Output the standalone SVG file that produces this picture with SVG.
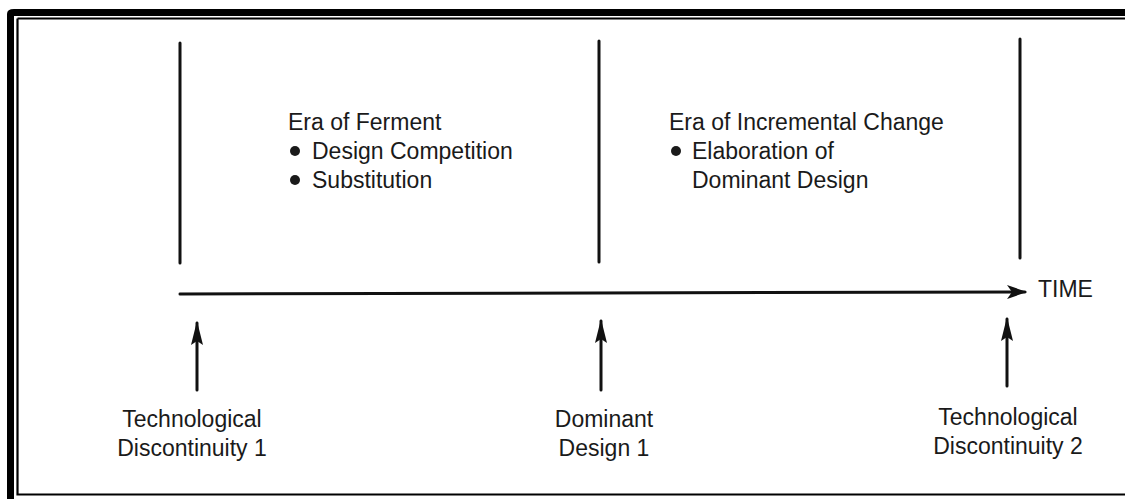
<svg xmlns="http://www.w3.org/2000/svg" width="1125" height="499" viewBox="0 0 1125 499">
  <style>
    .txt { font-family: "Liberation Sans", Arial, sans-serif; font-size: 23px; fill: #1a1a1a; }
    .mid { text-anchor: middle; }
    .rule { stroke: #111; stroke-width: 3; fill: none; stroke-linecap: round; }
    .frame { stroke: #000; fill: none; }
    .dot { fill: #1a1a1a; }
  </style>
  <defs>
    <marker id="headRight" viewBox="0 0 20 14" refX="18" refY="7" markerWidth="20" markerHeight="14" markerUnits="userSpaceOnUse" orient="auto">
      <path d="M0,0 L20,7 L0,14 L5,7 Z" fill="#111"/>
    </marker>
    <marker id="headUp" viewBox="0 0 24 14" refX="22" refY="7" markerWidth="24" markerHeight="14" markerUnits="userSpaceOnUse" orient="auto">
      <path d="M0,1 L24,7 L0,13 L4,7 Z" fill="#111"/>
    </marker>
  </defs>

  <rect width="1125" height="499" fill="#fff"/>

  <!-- frame: heavy outer band, thin inner rule -->
  <g id="frame">
    <path d="M10.5,499 V14 Q10.5,12.5 14,12.5 H1125" class="frame" stroke-width="7"/>
    <path d="M17.5,18.5 H1125 M17.5,18.5 V494.5 H1125" class="frame" stroke-width="2.2"/>
  </g>

  <!-- era boundaries -->
  <g id="boundaries">
    <line x1="180" y1="43" x2="180" y2="263" class="rule"/>
    <line x1="599" y1="41" x2="599" y2="262" class="rule"/>
    <line x1="1020" y1="39" x2="1020" y2="258" class="rule"/>
  </g>

  <g id="connectors">
    <!-- time axis -->
    <line x1="180" y1="294" x2="1025" y2="292" class="rule" marker-end="url(#headRight)"/>
    <!-- event pointers -->
    <line x1="197" y1="390" x2="197" y2="323" class="rule" marker-end="url(#headUp)"/>
    <line x1="601" y1="390" x2="601" y2="321" class="rule" marker-end="url(#headUp)"/>
    <line x1="1007" y1="386" x2="1007" y2="319" class="rule" marker-end="url(#headUp)"/>
  </g>

  <g id="time-label">
    <text x="1038" y="297" class="txt">TIME</text>
  </g>

  <g id="era-ferment">
    <text x="288" y="130" class="txt">Era of Ferment</text>
    <circle cx="295" cy="151" r="5" class="dot"/>
    <text x="312" y="159" class="txt">Design Competition</text>
    <circle cx="295" cy="180" r="5" class="dot"/>
    <text x="312" y="188" class="txt">Substitution</text>
  </g>

  <g id="era-incremental">
    <text x="669" y="130" class="txt">Era of Incremental Change</text>
    <circle cx="676" cy="151" r="5" class="dot"/>
    <text x="692" y="159" class="txt">Elaboration of</text>
    <text x="692" y="188" class="txt">Dominant Design</text>
  </g>

  <g id="discontinuity-1">
    <text x="192" y="427" class="txt mid">Technological</text>
    <text x="192" y="456" class="txt mid">Discontinuity 1</text>
  </g>

  <g id="dominant-design-1">
    <text x="604" y="427" class="txt mid">Dominant</text>
    <text x="604" y="456" class="txt mid">Design 1</text>
  </g>

  <g id="discontinuity-2">
    <text x="1008" y="425" class="txt mid">Technological</text>
    <text x="1008" y="454" class="txt mid">Discontinuity 2</text>
  </g>
</svg>
